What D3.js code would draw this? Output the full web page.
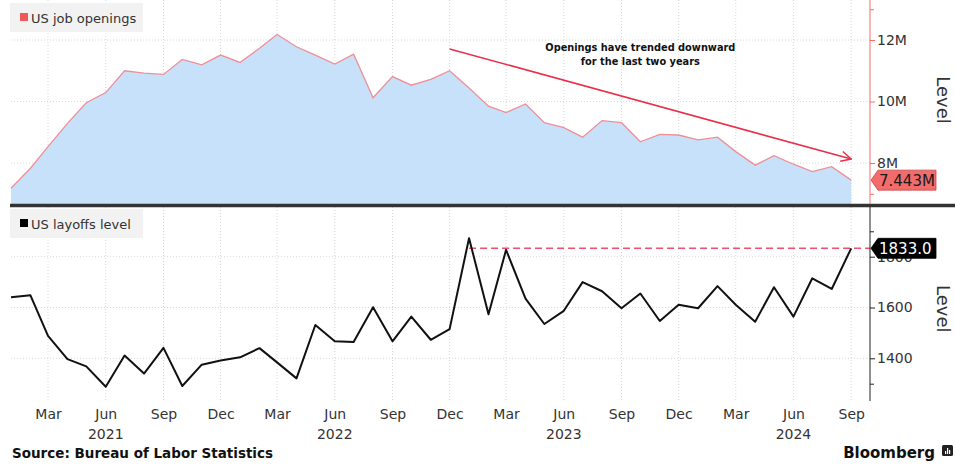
<!DOCTYPE html>
<html>
<head>
<meta charset="utf-8">
<script src="https://cdn.jsdelivr.net/npm/d3@7"></script>
<style>
  body { margin: 0; background: #fff; }
  svg { display: block; font-family: 'DejaVu Sans', Verdana, sans-serif; }
</style>
</head>
<body>
<div id="chart"></div>
<script>
// Monthly observations, Jan 2021 - Sep 2024
const months = [
  '2021-01', '2021-02', '2021-03', '2021-04', '2021-05', '2021-06',
  '2021-07', '2021-08', '2021-09', '2021-10', '2021-11', '2021-12',
  '2022-01', '2022-02', '2022-03', '2022-04', '2022-05', '2022-06',
  '2022-07', '2022-08', '2022-09', '2022-10', '2022-11', '2022-12',
  '2023-01', '2023-02', '2023-03', '2023-04', '2023-05', '2023-06',
  '2023-07', '2023-08', '2023-09', '2023-10', '2023-11', '2023-12',
  '2024-01', '2024-02', '2024-03', '2024-04', '2024-05', '2024-06',
  '2024-07', '2024-08', '2024-09',
];

// US job openings, millions
const openings = [
  7.18, 7.83, 8.53, 9.29, 9.96, 10.29, 11.0, 10.92, 10.88, 11.37, 11.19, 11.51,
  11.27, 11.73, 12.18, 11.78, 11.51, 11.22, 11.54, 10.12, 10.81, 10.53, 10.72, 11.0,
  10.44, 9.85, 9.64, 9.92, 9.31, 9.15, 8.84, 9.38, 9.31, 8.69, 8.93, 8.91,
  8.75, 8.84, 8.37, 7.93, 8.24, 7.96, 7.72, 7.88, 7.443,
];

// US layoffs level, thousands
const layoffs = [
  1640, 1648, 1488, 1397, 1368, 1288, 1411, 1340, 1441, 1291, 1375, 1391,
  1404, 1440, 1384, 1321, 1531, 1467, 1464, 1601, 1467, 1564, 1473, 1515,
  1873, 1573, 1827, 1635, 1535, 1587, 1700, 1664, 1597, 1655, 1547, 1611,
  1597, 1684, 1611, 1544, 1680, 1564, 1715, 1673, 1833,
];

const topTicks = [8, 12, 10];
const topMinorTicks = [7, 13];
const bottomTicks = [1400, 1600, 1800];
const bottomMinorTicks = [1300, 1900];
const yearLabels = ['2021', '2022', '2023', '2024'];

const parseMonth = d3.timeParse('%Y-%m');
const dates = months.map(parseMonth);
const data = dates.map((d, i) => ({ date: d, open: openings[i], lay: layoffs[i] }));
const last = data[data.length - 1];

const width = 955;
const height = 466;
const plotLeft = 11;
const plotRight = 870;

const svg = d3
  .select('#chart')
  .append('svg')
  .attr('width', width)
  .attr('height', height);

// Scales
const xscale = d3
  .scaleTime()
  .domain([parseMonth('2021-01'), parseMonth('2024-10')])
  .range([plotLeft, plotRight]);

const yTop = d3.scaleLinear().domain([8, 12]).range([163, 40]);
const yBot = d3.scaleLinear().domain([1400, 1800]).range([358.3, 256.7]);

const topBottom = 204;
const botTop = 207;
const botBottom = 401;

const tickDates = dates.filter((d) => d.getMonth() % 3 === 2);

// Vertical dotted gridlines through both panels
svg
  .append('g')
  .selectAll('line')
  .data(tickDates)
  .enter()
  .append('line')
  .attr('x1', (d) => xscale(d))
  .attr('x2', (d) => xscale(d))
  .attr('y1', 0)
  .attr('y2', botBottom)
  .attr('stroke', '#d8d8d8')
  .attr('stroke-dasharray', '1,2');

// Horizontal gridlines
svg
  .append('g')
  .selectAll('line')
  .data(topTicks)
  .enter()
  .append('line')
  .attr('x1', plotLeft)
  .attr('x2', plotRight)
  .attr('y1', (d) => yTop(d))
  .attr('y2', (d) => yTop(d))
  .attr('stroke', '#d8d8d8')
  .attr('stroke-dasharray', '1,2');

svg
  .append('g')
  .selectAll('line')
  .data(bottomTicks)
  .enter()
  .append('line')
  .attr('x1', plotLeft)
  .attr('x2', plotRight)
  .attr('y1', (d) => yBot(d))
  .attr('y2', (d) => yBot(d))
  .attr('stroke', '#d8d8d8')
  .attr('stroke-dasharray', '1,2');

// Job openings area + line
const area = d3
  .area()
  .x((d) => xscale(d.date))
  .y0(topBottom)
  .y1((d) => yTop(d.open));

svg.append('path').datum(data).attr('d', area).attr('fill', '#c8e1fb');

const openLine = d3
  .line()
  .x((d) => xscale(d.date))
  .y((d) => yTop(d.open));

svg
  .append('path')
  .datum(data)
  .attr('d', openLine)
  .attr('fill', 'none')
  .attr('stroke', '#ef8f95')
  .attr('stroke-width', 1.3);

// Layoffs line
const layLine = d3
  .line()
  .x((d) => xscale(d.date))
  .y((d) => yBot(d.lay));

// Dashed reference at latest layoffs level, from Jan 2023
svg
  .append('line')
  .attr('x1', xscale(parseMonth('2023-01')))
  .attr('x2', plotRight)
  .attr('y1', yBot(last.lay))
  .attr('y2', yBot(last.lay))
  .attr('stroke', '#f0506a')
  .attr('stroke-width', 1.6)
  .attr('stroke-dasharray', '7,4');

svg
  .append('path')
  .datum(data)
  .attr('d', layLine)
  .attr('fill', 'none')
  .attr('stroke', '#111')
  .attr('stroke-width', 2)
  .attr('stroke-linejoin', 'round');

// Trend arrow annotation
svg
  .append('defs')
  .append('marker')
  .attr('id', 'arrow')
  .attr('viewBox', '0 0 12 12')
  .attr('refX', 11)
  .attr('refY', 6)
  .attr('markerWidth', 12)
  .attr('markerHeight', 12)
  .attr('markerUnits', 'userSpaceOnUse')
  .attr('orient', 'auto')
  .append('path')
  .attr('d', 'M1,1 L11,6 L1,11')
  .attr('fill', 'none')
  .attr('stroke', '#e8304a')
  .attr('stroke-width', 1.5);

svg
  .append('line')
  .attr('x1', xscale(parseMonth('2022-12')))
  .attr('y1', yTop(11.71))
  .attr('x2', xscale(parseMonth('2024-09')))
  .attr('y2', yTop(8.13))
  .attr('stroke', '#e8304a')
  .attr('stroke-width', 1.6)
  .attr('marker-end', 'url(#arrow)');

const note = svg
  .append('text')
  .attr('x', xscale(parseMonth('2023-10')))
  .attr('y', yTop(11.65))
  .attr('text-anchor', 'middle')
  .style('font-size', '9.8px')
  .style('font-weight', 'bold')
  .attr('fill', '#111');
note.append('tspan').text('Openings have trended downward');
note
  .append('tspan')
  .attr('x', xscale(parseMonth('2023-10')))
  .attr('dy', 14)
  .text('for the last two years');

// Panel separator
svg
  .append('line')
  .attr('x1', plotLeft - 1)
  .attr('x2', width)
  .attr('y1', 205.5)
  .attr('y2', 205.5)
  .attr('stroke', '#333')
  .attr('stroke-width', 3.5);

// Right axes
function styleAxis(g, color) {
  g.selectAll('.domain').remove();
  g.selectAll('.tick line').attr('stroke', color);
  g.selectAll('.tick text')
    .attr('fill', '#333')
    .style('font-size', '14px')
    .style('font-family', "'DejaVu Sans', Verdana, sans-serif");
}

svg
  .append('line')
  .attr('x1', plotRight)
  .attr('x2', plotRight)
  .attr('y1', 0)
  .attr('y2', topBottom)
  .attr('stroke', '#f06e6e');

svg
  .append('g')
  .attr('transform', `translate(${plotRight}, 0)`)
  .call(d3.axisRight(yTop).tickValues(topTicks).tickSize(5).tickPadding(2).tickFormat((d) => `${d}M`))
  .call((g) => styleAxis(g, '#f06e6e'));

svg
  .append('g')
  .attr('transform', `translate(${plotRight}, 0)`)
  .call(d3.axisRight(yTop).tickValues(topMinorTicks).tickSize(4).tickFormat(''))
  .call((g) => styleAxis(g, '#f06e6e'));

svg
  .append('line')
  .attr('x1', plotRight)
  .attr('x2', plotRight)
  .attr('y1', botTop)
  .attr('y2', botBottom)
  .attr('stroke', '#222');

svg
  .append('g')
  .attr('transform', `translate(${plotRight}, 0)`)
  .call(d3.axisRight(yBot).tickValues(bottomTicks).tickSize(5).tickPadding(2).tickFormat(d3.format('d')))
  .call((g) => styleAxis(g, '#222'));

svg
  .append('g')
  .attr('transform', `translate(${plotRight}, 0)`)
  .call(d3.axisRight(yBot).tickValues(bottomMinorTicks).tickSize(4).tickFormat(''))
  .call((g) => styleAxis(g, '#222'));

// "Level" axis titles
[[yTop(10.05)], [yBot(1595)]].forEach(([cy]) => {
  svg
    .append('text')
    .attr('transform', `translate(937, ${cy}) rotate(90)`)
    .attr('text-anchor', 'middle')
    .style('font-size', '18px')
    .attr('fill', '#333')
    .text('Level');
});

// Last value tags
function valueTag(cy, label, fill, textColor) {
  const x0 = plotRight + 1;
  const tag = svg.append('g');
  tag
    .append('path')
    .attr('d', `M${x0},${cy} L${x0 + 7},${cy - 10} L${x0 + 65},${cy - 10} L${x0 + 65},${cy + 10} L${x0 + 7},${cy + 10} Z`)
    .attr('fill', fill)
    .attr('stroke', fill === '#000' ? '#000' : '#c84848')
    .attr('stroke-width', 0.8);
  tag
    .append('text')
    .attr('x', x0 + 8)
    .attr('y', cy + 5.5)
    .style('font-size', '15px')
    .attr('fill', textColor)
    .text(label);
}

valueTag(yTop(last.open), `${d3.format('.3f')(last.open)}M`, '#f26c6c', '#1a1a1a');
valueTag(yBot(last.lay), d3.format('.1f')(last.lay), '#000', '#fff');

// Bottom time axis
const xAxis = d3
  .axisBottom(xscale)
  .tickValues(tickDates)
  .tickSize(0)
  .tickPadding(8)
  .tickFormat(d3.timeFormat('%b'));

svg
  .append('g')
  .attr('transform', `translate(0, ${botBottom})`)
  .call(xAxis)
  .call((g) => styleAxis(g, '#222'));

svg
  .append('g')
  .selectAll('text')
  .data(yearLabels)
  .enter()
  .append('text')
  .attr('x', (d) => xscale(parseMonth(`${d}-06`)))
  .attr('y', 439)
  .attr('text-anchor', 'middle')
  .style('font-size', '14px')
  .attr('fill', '#333')
  .text((d) => d);

// Legends
function legend(y, label, color) {
  const g = svg.append('g');
  g.append('rect')
    .attr('x', 10)
    .attr('y', y)
    .attr('width', 133)
    .attr('height', 29)
    .attr('fill', '#f2f2f2');
  g.append('rect')
    .attr('x', 20)
    .attr('y', y + 10)
    .attr('width', 8)
    .attr('height', 8)
    .attr('fill', color);
  g.append('text')
    .attr('x', 31)
    .attr('y', y + 19.5)
    .style('font-size', '13px')
    .attr('fill', '#333')
    .text(label);
}

legend(3, 'US job openings', '#f25a5a');
legend(209, 'US layoffs level', '#000');

// Footer
svg
  .append('text')
  .attr('x', 12)
  .attr('y', 458)
  .style('font-size', '13.5px')
  .style('font-weight', 'bold')
  .attr('fill', '#111')
  .text('Source: Bureau of Labor Statistics');

svg
  .append('text')
  .attr('x', 935)
  .attr('y', 458)
  .attr('text-anchor', 'end')
  .style('font-size', '15px')
  .style('font-weight', 'bold')
  .attr('fill', '#111')
  .text('Bloomberg');

const logo = svg.append('g').attr('transform', 'translate(942, 445)');
logo.append('rect').attr('width', 11).attr('height', 11).attr('rx', 1.5).attr('fill', '#222');
[[3, 6], [5, 3], [7, 5]].forEach(([bx, by]) => {
  logo
    .append('rect')
    .attr('x', bx)
    .attr('y', by)
    .attr('width', 1.2)
    .attr('height', 9 - by)
    .attr('fill', '#fff');
});
</script>
</body>
</html>
